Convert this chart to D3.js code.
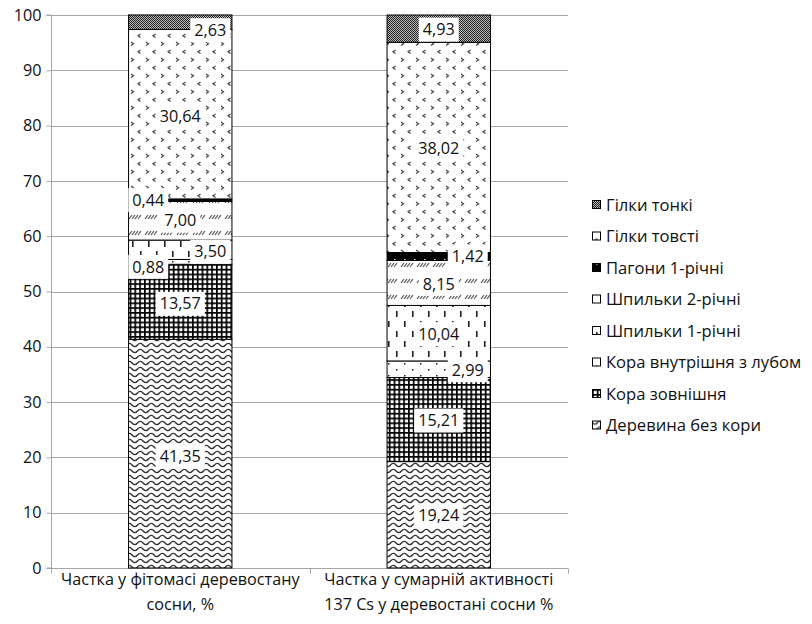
<!DOCTYPE html>
<html>
<head>
<meta charset="utf-8">
<script src="https://cdn.jsdelivr.net/npm/d3@7"></script>
<style>
  html, body { margin: 0; padding: 0; background: #fff; }
  svg { display: block; font-family: "Open Sans", "Noto Sans", sans-serif; }
</style>
</head>
<body>
<svg id="chart" width="812" height="624"></svg>
<script>
// ---------- DATA ----------
const categoryLines = [
  ["Частка у фітомасі деревостану", "сосни, %"],
  ["Частка у сумарній активності", "137 Cs у деревостані сосни %"]
];
const seriesNames = [
  "Деревина без кори",
  "Кора зовнішня",
  "Кора внутрішня з лубом",
  "Шпильки 1-річні",
  "Шпильки 2-річні",
  "Пагони 1-річні",
  "Гілки товсті",
  "Гілки тонкі"
];
const phytomassShare = [41.35, 13.57, 0.88, 3.50, 7.00, 0.44, 30.64, 2.63];
const activityShare  = [19.24, 15.21, 2.99, 10.04, 8.15, 1.42, 38.02, 4.93];
const yTickValues = [0, 10, 20, 30, 40, 50, 60, 70, 80, 90, 100];

// ---------- LAYOUT ----------
const plot = { left: 51, right: 568, top: 15, bottom: 568 };
const fontSize = 16.2;
const legendFontSize = 16.6;
// label nudges (px) for small segments, as placed in the original
const labelNudge = [
  [[0,3],[0,2],[-32,5],[30,2],[0,0],[-32,0],[0,2],[30,8]],
  [[0,1],[0,1],[29,1],[0,1],[0,1],[29,0],[0,1],[0,1]]
];
const patternIds = ["pWave","pGrid","pDots","pVdash","pDiag","pShoot","pConf","pCheck"];

const svg = d3.select("#chart");
const defs = svg.append("defs");

function pat(id, w, h, bg) {
  const p = defs.append("pattern").attr("id", id)
    .attr("patternUnits", "userSpaceOnUse").attr("width", w).attr("height", h);
  p.append("rect").attr("width", w).attr("height", h).attr("fill", bg || "#fff");
  return p;
}
// wave
pat("pWave", 11, 6).append("path")
  .attr("d", "M-5.5,3 Q-2.75,-0.2 0,3 T5.5,3 T11,3 T16.5,3")
  .attr("fill", "none").attr("stroke", "#333").attr("stroke-width", 1.4);
// grid
{
  const p = pat("pGrid", 4.8, 4.8);
  p.append("rect").attr("x", 0).attr("y", 0).attr("width", 4.8).attr("height", 1.7).attr("fill", "#000");
  p.append("rect").attr("x", 0).attr("y", 0).attr("width", 1.7).attr("height", 4.8).attr("fill", "#000");
}
// sparse dots
{
  const p = pat("pDots", 16, 12);
  p.append("rect").attr("x", 4).attr("y", 3).attr("width", 1.5).attr("height", 1.5).attr("fill", "#222");
  p.append("rect").attr("x", 12).attr("y", 9).attr("width", 1.5).attr("height", 1.5).attr("fill", "#222");
}
// vertical dashes
{
  const p = pat("pVdash", 16, 20);
  p.append("rect").attr("x", 4).attr("y", 1).attr("width", 1.6).attr("height", 6).attr("fill", "#222");
  p.append("rect").attr("x", 12).attr("y", 11).attr("width", 1.6).attr("height", 6).attr("fill", "#222");
}
// diagonal dash groups
{
  const p = pat("pDiag", 16, 16);
  [1, 4, 7, 10].forEach(x => p.append("path")
    .attr("d", `M${x},${11} L${x + 3},${7}`)
    .attr("stroke", "#555").attr("stroke-width", 1.2));
}
// shoots: black with white dots
{
  const p = pat("pShoot", 10, 8, "#000");
  p.append("rect").attr("x", 4).attr("y", 3).attr("width", 1.5).attr("height", 1.5).attr("fill", "#fff");
}
// confetti < >
{
  const p = pat("pConf", 15, 16);
  p.append("path").attr("d", "M5.5,2 L3,3.7 L5.5,5.4").attr("fill", "none").attr("stroke", "#444").attr("stroke-width", 1.2);
  p.append("path").attr("d", "M11,10 L13.5,11.7 L11,13.4").attr("fill", "none").attr("stroke", "#444").attr("stroke-width", 1.2);
}
// checker
{
  const p = pat("pCheck", 2, 2);
  p.select("rect").attr("fill", "#bbb");
  p.append("rect").attr("x", 0).attr("y", 0).attr("width", 1).attr("height", 1).attr("fill", "#222");
  p.append("rect").attr("x", 1).attr("y", 1).attr("width", 1).attr("height", 1).attr("fill", "#222");
}

// ---------- SCALES ----------
const x = d3.scaleBand().domain([0, 1]).range([plot.left, plot.right]).padding(0);
const y = d3.scaleLinear().domain([0, 100]).range([plot.bottom, plot.top]);
const barW = x.bandwidth() / 2.5;

// gridlines
svg.append("g").selectAll("line").data(yTickValues.filter(v => v > 0)).join("line")
  .attr("x1", plot.left).attr("x2", plot.right)
  .attr("y1", d => Math.round(y(d)) + 0.5).attr("y2", d => Math.round(y(d)) + 0.5)
  .attr("stroke", "#a6a6a6").attr("stroke-width", 1);

// y axis
const yAxis = svg.append("g").attr("transform", `translate(${plot.left + 0.5},0)`)
  .call(d3.axisLeft(y).tickValues(yTickValues).tickSize(5).tickPadding(5));
yAxis.select(".domain").attr("stroke", "#a6a6a6").attr("d", `M-5,${y(0)}H0V${y(100)}H-5`);
yAxis.selectAll(".tick line").attr("stroke", "#a6a6a6");
yAxis.selectAll(".tick text").attr("font-size", fontSize).attr("fill", "#111")
  .attr("font-family", "'Open Sans', sans-serif");

// x axis
const xAxisG = svg.append("g").attr("transform", `translate(0,${Math.round(y(0)) + 0.5})`);
xAxisG.append("line").attr("x1", plot.left).attr("x2", plot.right).attr("stroke", "#a6a6a6");
xAxisG.selectAll("line.tk").data([plot.left, plot.left + x.step(), plot.right]).join("line")
  .attr("class", "tk").attr("x1", d => Math.round(d) + 0.5).attr("x2", d => Math.round(d) + 0.5)
  .attr("y1", 0).attr("y2", 5).attr("stroke", "#a6a6a6");
categoryLines.forEach((lines, i) => {
  const t = xAxisG.append("text").attr("text-anchor", "middle")
    .attr("font-size", fontSize).attr("fill", "#111")
    .attr("x", x(i) + x.bandwidth() / 2);
  lines.forEach((ln, j) => t.append("tspan")
    .attr("x", x(i) + x.bandwidth() / 2).attr("y", 16 + j * 25).text(ln));
});

// ---------- BARS ----------
const datasets = [phytomassShare, activityShare];
const bars = svg.append("g");
const labels = svg.append("g");
datasets.forEach((vals, ci) => {
  const cx = x(ci) + x.bandwidth() / 2;
  let cum = 0;
  const segs = vals.map((v, si) => {
    const s = { si, y0: cum, y1: cum + v, v };
    cum += v;
    return s;
  });
  bars.selectAll(null).data(segs).join("rect")
    .attr("x", cx - barW / 2).attr("width", barW)
    .attr("y", d => y(d.y1)).attr("height", d => y(d.y0) - y(d.y1))
    .attr("fill", d => `url(#${patternIds[d.si]})`)
    .attr("stroke", "#000").attr("stroke-width", 1);
  segs.forEach(d => {
    const [dx, dy] = labelNudge[ci][d.si];
    const lx = cx + dx, ly = y((d.y0 + d.y1) / 2) + dy;
    const g = labels.append("g").attr("transform", `translate(${lx},${ly})`);
    const txt = d3.format(".2f")(d.v).replace(".", ",");
    const t = g.append("text").attr("text-anchor", "middle").attr("dy", "0.35em")
      .attr("font-size", fontSize).attr("fill", "#111").text(txt);
    const w = t.node().getComputedTextLength();
    g.insert("rect", "text").attr("x", -w / 2 - 4).attr("y", -12).attr("width", w + 8).attr("height", 24)
      .attr("fill", "#fff");
  });
});

// ---------- LEGEND ----------
const legend = svg.append("g").attr("transform", "translate(592,205)");
const legendOrder = d3.range(seriesNames.length).reverse();
legendOrder.forEach((si, k) => {
  const g = legend.append("g").attr("transform", `translate(0,${k * 31.5})`);
  g.append("rect").attr("x", 0.5).attr("y", -4.5).attr("width", 8).attr("height", 8)
    .attr("fill", `url(#${patternIds[si]})`).attr("stroke", "#000").attr("stroke-width", 1);
  g.append("text").attr("x", 14).attr("dy", "0.35em").attr("font-size", legendFontSize)
    .attr("fill", "#111").text(seriesNames[si]);
});
</script>
</body>
</html>
